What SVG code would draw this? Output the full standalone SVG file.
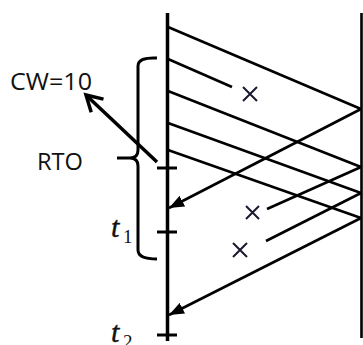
<svg xmlns="http://www.w3.org/2000/svg" width="363" height="345" viewBox="0 0 363 345">
<style>
.ln{stroke:#000;stroke-width:2.6;fill:none;stroke-linecap:butt}
.tick{stroke:#000;stroke-width:3;fill:none}
.x{stroke:#1a1a2e;stroke-width:2;fill:none}
.lbl{font-family:"Open Sans","Liberation Sans",sans-serif;fill:#111}
.math{font-family:"Liberation Serif","DejaVu Serif",serif;font-style:italic;fill:#111;stroke:#111;stroke-width:0.4}
.sub{font-family:"Liberation Serif","DejaVu Serif",serif;fill:#111}
</style>
<defs>
<marker id="ah" markerUnits="userSpaceOnUse" markerWidth="16" markerHeight="12" refX="15" refY="6" orient="auto">
<path d="M0,0 L15,6 L0,12 z" fill="#000"/>
</marker>
</defs>
<rect width="363" height="345" fill="#fff"/>
<g id="sender">
<line x1="167.5" y1="13" x2="167.5" y2="341" stroke="#000" stroke-width="3.5"/>
<line class="tick" x1="157" y1="168" x2="177" y2="168"/>
<line class="tick" x1="157" y1="232" x2="177" y2="232"/>
<line class="tick" x1="157" y1="335" x2="177" y2="335"/>
</g>
<g id="receiver">
<line x1="361.5" y1="13" x2="361.5" y2="338" stroke="#000" stroke-width="2.6"/>
</g>
<g id="connectors">
<line class="ln" x1="168" y1="27" x2="361" y2="109"/>
<line class="ln" x1="168" y1="59" x2="232" y2="87"/>
<line class="ln" x1="168" y1="91" x2="361" y2="167"/>
<line class="ln" x1="168" y1="123" x2="361" y2="193"/>
<line class="ln" x1="168" y1="150" x2="361" y2="218"/>
<line class="ln" x1="361" y1="109" x2="169" y2="208" marker-end="url(#ah)"/>
<line class="ln" x1="361" y1="167" x2="267" y2="209"/>
<line class="ln" x1="361" y1="193" x2="266" y2="241"/>
<line class="ln" x1="361" y1="218" x2="169" y2="315" marker-end="url(#ah)"/>
<line x1="157" y1="162" x2="87" y2="96" stroke="#000" stroke-width="3.5"/>
<polyline points="103.5,99.1 86,95 91.2,112.2" fill="none" stroke="#000" stroke-width="3.5"/>
</g>
<g id="losses">
<path class="x" d="M243,87 L257,101 M257,87 L243,101"/>
<path class="x" d="M246,206 L259,219 M259,206 L246,219"/>
<path class="x" d="M233,243 L247,257 M247,243 L233,257"/>
</g>
<g id="bracket">
<path d="M157,58 Q138,57 138,66 L138,150 Q138,158 130,158 L117,158 M130,158 Q138,158 138,166 L138,250 Q138,259 157,259" fill="none" stroke="#000" stroke-width="3"/>
</g>
<g id="labels">
<text class="lbl" x="10" y="90" font-size="23.5" textLength="82" lengthAdjust="spacingAndGlyphs">CW=10</text>
<text class="lbl" x="37" y="170" font-size="23" textLength="46" lengthAdjust="spacingAndGlyphs">RTO</text>
<text class="math" x="111" y="237" font-size="30">t</text>
<text class="sub" x="123" y="243" font-size="19">1</text>
<text class="math" x="111" y="342" font-size="30">t</text>
<text class="sub" x="123" y="348" font-size="19">2</text>
</g>
</svg>
